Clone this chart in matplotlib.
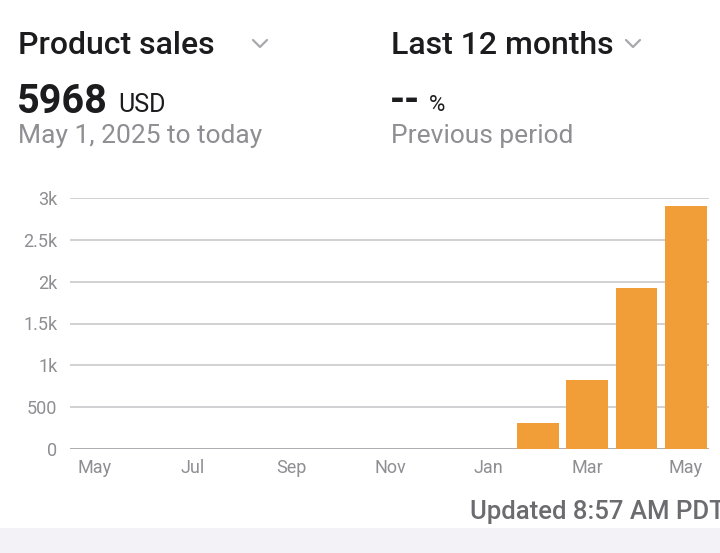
import numpy as np
import matplotlib.pyplot as plt
from matplotlib.patches import Rectangle
from matplotlib.lines import Line2D

plt.rcParams['font.family'] = ['Roboto', 'DejaVu Sans']

months = ['May', 'Jun', 'Jul', 'Aug', 'Sep', 'Oct', 'Nov', 'Dec',
          'Jan', 'Feb', 'Mar', 'Apr', 'May']
sales = [0, 0, 0, 0, 0, 0, 0, 0, 0, 310, 830, 1925, 2903]
yticks = [0, 500, 1000, 1500, 2000, 2500, 3000]
ytick_labels = ['0', '500', '1k', '1.5k', '2k', '2.5k', '3k']

bar_color = '#F19E38'
grid_color = '#C9C9CD'
label_grey = '#8E8E93'
dark = '#1C1C1E'

fig = plt.figure(figsize=(7.2, 5.53), dpi=100)
W, H = 720, 553

def fx(px):
    return px / W

def fy(py):
    return 1 - py / H

def chevron(cx, cy):
    xs = [fx(cx - 7), fx(cx), fx(cx + 7)]
    ys = [fy(cy - 4), fy(cy + 3), fy(cy - 4)]
    fig.lines.append(Line2D(xs, ys, transform=fig.transFigure, color='#A8A8AD',
                            linewidth=1.6, solid_capstyle='round', solid_joinstyle='round'))

# header
fig.text(fx(18), fy(46), 'Product sales', fontsize=23, fontweight='medium', color=dark, va='center', ha='left')
chevron(260, 44)
fig.text(fx(391), fy(46), 'Last 12 months', fontsize=23, fontweight='medium', color=dark, va='center', ha='left')
chevron(633, 44)

fig.text(fx(17), fy(102), '5968', fontsize=28.5, fontweight='bold', color=dark, va='center', ha='left')
fig.text(fx(118), fy(105), 'USD', fontsize=18, color=dark, va='center', ha='left')
fig.text(fx(390), fy(102), '--', fontsize=28, fontweight='bold', color=dark, va='center', ha='left')
fig.text(fx(429), fy(106), '%', fontsize=16, color=dark, va='center', ha='left')

fig.text(fx(18), fy(136), 'May 1, 2025 to today', fontsize=19, color=label_grey, va='center', ha='left')
fig.text(fx(391), fy(136), 'Previous period', fontsize=19, color=label_grey, va='center', ha='left')

# chart
ax = fig.add_axes([fx(70), fy(449), fx(709) - fx(70), (449 - 198) / H])
x = np.arange(len(months))
ax.bar(x, sales, width=0.85, color=bar_color, zorder=3)
ax.set_ylim(0, 3000)
ax.set_xlim(-0.49, 12.47)
ax.set_yticks(yticks)
ax.set_yticklabels(ytick_labels)
ax.set_xticks(x[::2])
ax.set_xticklabels(months[::2])
ax.yaxis.grid(True, color=grid_color, linewidth=1.2, zorder=0)
ax.tick_params(axis='both', length=0, labelsize=13, labelcolor=label_grey)
ax.tick_params(axis='y', pad=9)
ax.tick_params(axis='x', pad=7)
for s in ax.spines.values():
    s.set_visible(False)
ax.axhline(0, color='#A8A8AD', linewidth=1.2, zorder=2)

# footer (cut off at the right edge, as in the screenshot)
fig.text(fx(470), fy(512), 'Updated 8:57 AM PDT', fontsize=18.5, fontweight='medium', color='#6C6C70', va='center', ha='left')
fig.patches.append(Rectangle((0, 0), 1, fy(528), transform=fig.transFigure,
                             facecolor='#F2F2F7', edgecolor='none', zorder=0))

fig.savefig('out.png', dpi=100)
